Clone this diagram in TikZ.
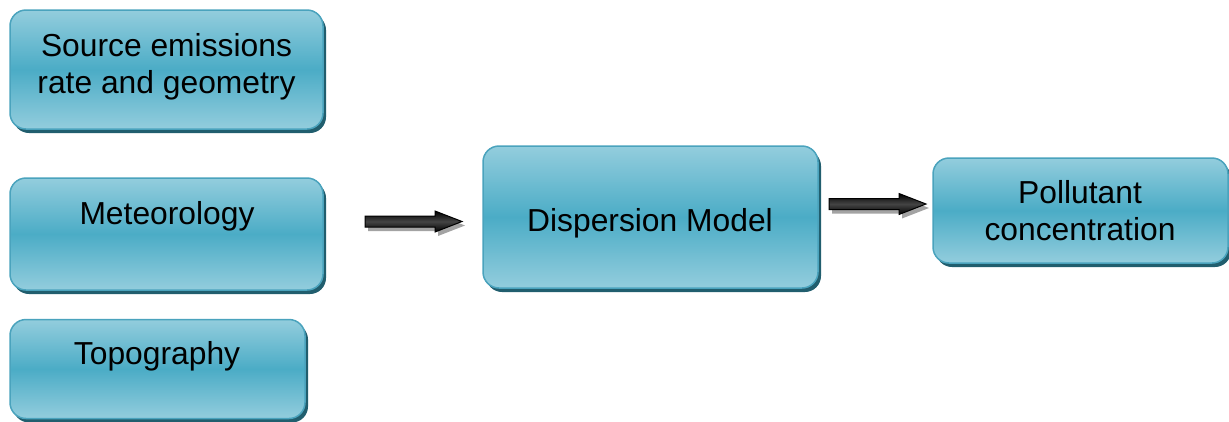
\documentclass[tikz,border=0pt]{standalone}
\usepackage{fontspec}
\setmainfont{Liberation Sans}
\usetikzlibrary{shadows,calc}

\definecolor{boxlight}{HTML}{93CDDD}
\definecolor{boxdark}{HTML}{4BACC6}
\definecolor{boxedge}{HTML}{4AA3BD}
\definecolor{boxshadow}{HTML}{215E6E}
\definecolor{arrowshade}{HTML}{444444}

\tikzset{
  box/.style={
    rectangle, rounded corners=16pt, draw=boxedge, line width=1.5pt,
    top color=boxlight, bottom color=boxlight, middle color=boxdark,
    drop shadow={shadow xshift=3pt, shadow yshift=-4pt, fill=boxshadow, opacity=1},
    inner sep=0pt
  },
  lbl/.style={font=\fontsize{31.8}{37}\selectfont, align=center, inner sep=0pt, text=black},
  arrowbody/.style={draw=black, line width=1pt, line join=miter,
    top color=black, bottom color=black, middle color=arrowshade},
  arrowshadow/.style={fill=black!45, opacity=0.8}
}

% block arrow from #1 to its tip #2 (both on the same level), shifted by #3
\newcommand\blockarrowpath[3]{
  ([shift={#3}]$(#1)+(0,5.5)$) -- ([shift={#3}]$(#2)+(-27,5.5)$)
  -- ([shift={#3}]$(#2)+(-27,10.5)$) -- ([shift={#3}]#2)
  -- ([shift={#3}]$(#2)+(-27,-10.5)$) -- ([shift={#3}]$(#2)+(-27,-5.5)$)
  -- ([shift={#3}]$(#1)+(0,-5.5)$) -- cycle
}

\begin{document}
\begin{tikzpicture}[x=1pt, y=1pt]
  \useasboundingbox (0,0) rectangle (1229,-421);

  % boxes
  \node[box, minimum width=313pt, minimum height=119pt] (src)  at (166.5,-69.5) {};
  \node[box, minimum width=313pt, minimum height=112pt] (met)  at (166.5,-234) {};
  \node[box, minimum width=295pt, minimum height=99pt]  (topo) at (157.5,-369) {};
  \node[box, minimum width=335pt, minimum height=142pt] (disp) at (650.5,-217) {};
  \node[box, minimum width=295pt, minimum height=105pt] (poll) at (1080.5,-210.5) {};

  % labels (base = baseline of the last line)
  \node[lbl, anchor=base] (src-t)  at (166.5,-93) {Source emissions\\rate and geometry};
  \node[lbl, anchor=base] (met-t)  at (167,-224) {Meteorology};
  \node[lbl, anchor=base] (topo-t) at (157,-364) {Topography};
  \node[lbl, anchor=base] (disp-t) at (650,-231.5) {Dispersion Model};
  \node[lbl, anchor=base] (poll-t) at (1080,-240.5) {Pollutant\\concentration};

  % arrow end points
  \coordinate (a1s) at (365,-221.5);
  \coordinate (a1e) at (462,-221.5);
  \coordinate (a2s) at (829,-204);
  \coordinate (a2e) at (926,-204);

  % block arrows with their shadows
  \fill[arrowshadow] \blockarrowpath{a1s}{a1e}{(3,-4)};
  \path[arrowbody]   \blockarrowpath{a1s}{a1e}{(0,0)};
  \fill[arrowshadow] \blockarrowpath{a2s}{a2e}{(3,-4)};
  \path[arrowbody]   \blockarrowpath{a2s}{a2e}{(0,0)};
\end{tikzpicture}
\end{document}
